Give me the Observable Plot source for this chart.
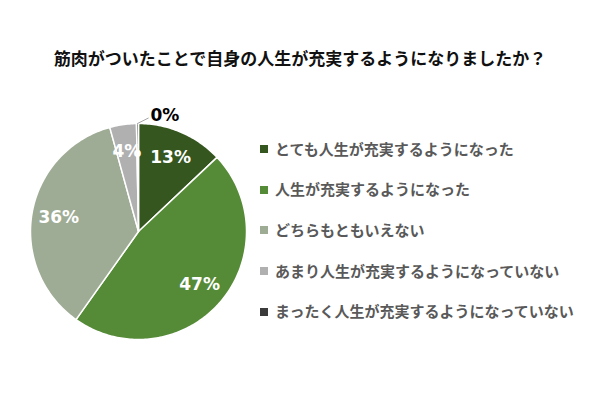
<!DOCTYPE html>
<html>
<head>
<meta charset="utf-8">
<script src="https://cdn.jsdelivr.net/npm/d3@7"></script>
<script src="https://cdn.jsdelivr.net/npm/@observablehq/plot@0.6"></script>
<style>
  html, body { margin: 0; padding: 0; background: #fff; }
  #wrap { position: relative; width: 600px; height: 400px; overflow: hidden; }
  #chart { position: absolute; left: 0; top: 0; }
  #title { position: absolute; left: 0; width: 600px; top: 49px; text-align: center;
    font-family: "Noto Sans CJK JP", sans-serif; font-weight: bold; font-size: 17px; line-height: 17px; color: #111; }
  .lg { position: absolute; left: 260px; height: 20px; display: flex; align-items: center;
    font-family: "Noto Sans CJK JP", sans-serif; font-weight: bold; font-size: 15px; color: #595959; white-space: nowrap; }
  .lg .sw { width: 8px; height: 8px; margin-right: 7px; margin-top: 2px; }
</style>
</head>
<body>
<div id="wrap">
  <div id="chart"></div>
  <div id="title">筋肉がついたことで自身の人生が充実するようになりましたか？</div>
</div>
<script>
const titleText = "筋肉がついたことで自身の人生が充実するようになりましたか？";
const categories = [
  "とても人生が充実するようになった",
  "人生が充実するようになった",
  "どちらもともいえない",
  "あまり人生が充実するようになっていない",
  "まったく人生が充実するようになっていない"
];
const values = [13, 47, 36, 4, 0.3];
const labels = ["13%", "47%", "36%", "4%", "0%"];
const colors = ["#36561f", "#558a36", "#9fac95", "#b0b0b0", "#3b3b3b"];

const total = d3.sum(values);
let acc = 0;
const slices = values.map((v, i) => {
  const a0 = acc / total * 2 * Math.PI;
  acc += v;
  const a1 = acc / total * 2 * Math.PI;
  return {cat: categories[i], a0, a1, mid: (a0 + a1) / 2, label: labels[i], i};
});

// polygon points for each slice (angles clockwise from 12 o'clock)
const poly = [];
for (const s of slices) {
  poly.push({cat: s.cat, x: 0, y: 0});
  const n = Math.max(2, Math.ceil((s.a1 - s.a0) / (Math.PI / 180)));
  for (let k = 0; k <= n; k++) {
    const a = s.a0 + (s.a1 - s.a0) * k / n;
    poly.push({cat: s.cat, x: Math.sin(a), y: Math.cos(a)});
  }
  poly.push({cat: s.cat, x: 0, y: 0});
}

const inside = slices.filter(s => s.i < 4).map(s => ({
  x: 0.75 * Math.sin(s.mid), y: 0.75 * Math.cos(s.mid), label: s.label
}));
const outerSlice = slices[4];
const leader = [
  {x: Math.sin(outerSlice.mid), y: Math.cos(outerSlice.mid)},
  {x: Math.sin(outerSlice.mid) + 0.1, y: Math.cos(outerSlice.mid) + 0.05}
];
const outside = [{x: leader[1].x + 0.02, y: leader[1].y + 0.02, label: outerSlice.label}];

const chart = Plot.plot({
  width: 600,
  height: 400,
  margin: 0,
  x: {domain: [-1, 1], range: [30, 246], axis: null},
  y: {domain: [-1, 1], range: [339, 123], axis: null},
  color: {domain: categories, range: colors},
  style: {background: "transparent"},
  marks: [
    Plot.line(poly, {x: "x", y: "y", z: "cat", fill: "cat", stroke: "#fff", strokeWidth: 1.5, strokeLinejoin: "round", curve: "linear"}),
    Plot.line(leader, {x: "x", y: "y", stroke: "#a6a6a6", strokeWidth: 1}),
    Plot.text(inside, {x: "x", y: "y", text: "label", fill: "#fff", fontSize: 17, fontWeight: "bold", fontFamily: "DejaVu Sans"}),
    Plot.text(outside, {x: "x", y: "y", text: "label", fill: "#000", fontSize: 17, fontWeight: "bold", fontFamily: "DejaVu Sans", textAnchor: "start"})
  ]
});
document.getElementById("chart").appendChild(chart);

const wrap = document.getElementById("wrap");
categories.forEach((c, i) => {
  const row = document.createElement("div");
  row.className = "lg";
  row.style.top = (138 + i * 40.7) + "px";
  const sw = document.createElement("div");
  sw.className = "sw";
  sw.style.background = colors[i];
  const t = document.createElement("span");
  t.textContent = c;
  row.appendChild(sw);
  row.appendChild(t);
  wrap.appendChild(row);
});
</script>
</body>
</html>
